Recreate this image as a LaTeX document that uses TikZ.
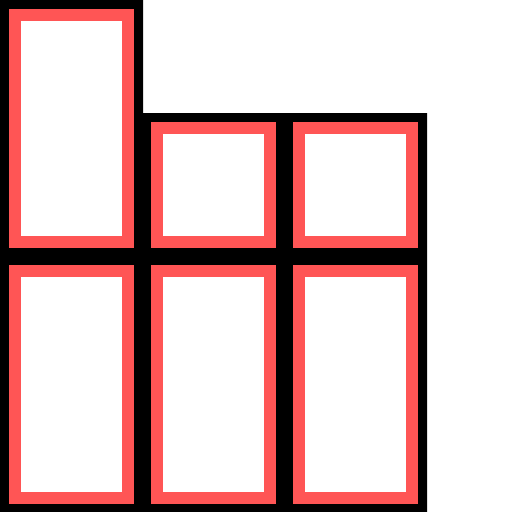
\documentclass[tikz,border=0pt]{standalone}
\definecolor{cellred}{RGB}{255,85,85}
\begin{document}
\begin{tikzpicture}[x=1pt,y=-1pt,
  cell/.style={draw=cellred,fill=white,line width=12pt,inner sep=0pt,outer sep=0pt,anchor=north west}]
\useasboundingbox (0,0) rectangle (512,512);
\fill[white] (0,0) rectangle (512,512);
\fill[black] (0,0) -- (143,0) -- (143,113) -- (427,113) -- (427,512) -- (0,512) -- cycle;
\node[cell,minimum width=113pt,minimum height=227pt] (a) at (15,15) {};
\node[cell,minimum width=113pt,minimum height=114pt] (b) at (157,128) {};
\node[cell,minimum width=113pt,minimum height=114pt] (c) at (299,128) {};
\node[cell,minimum width=113pt,minimum height=227pt] (d) at (15,271) {};
\node[cell,minimum width=113pt,minimum height=227pt] (e) at (157,271) {};
\node[cell,minimum width=113pt,minimum height=227pt] (f) at (299,271) {};
\end{tikzpicture}
\end{document}
